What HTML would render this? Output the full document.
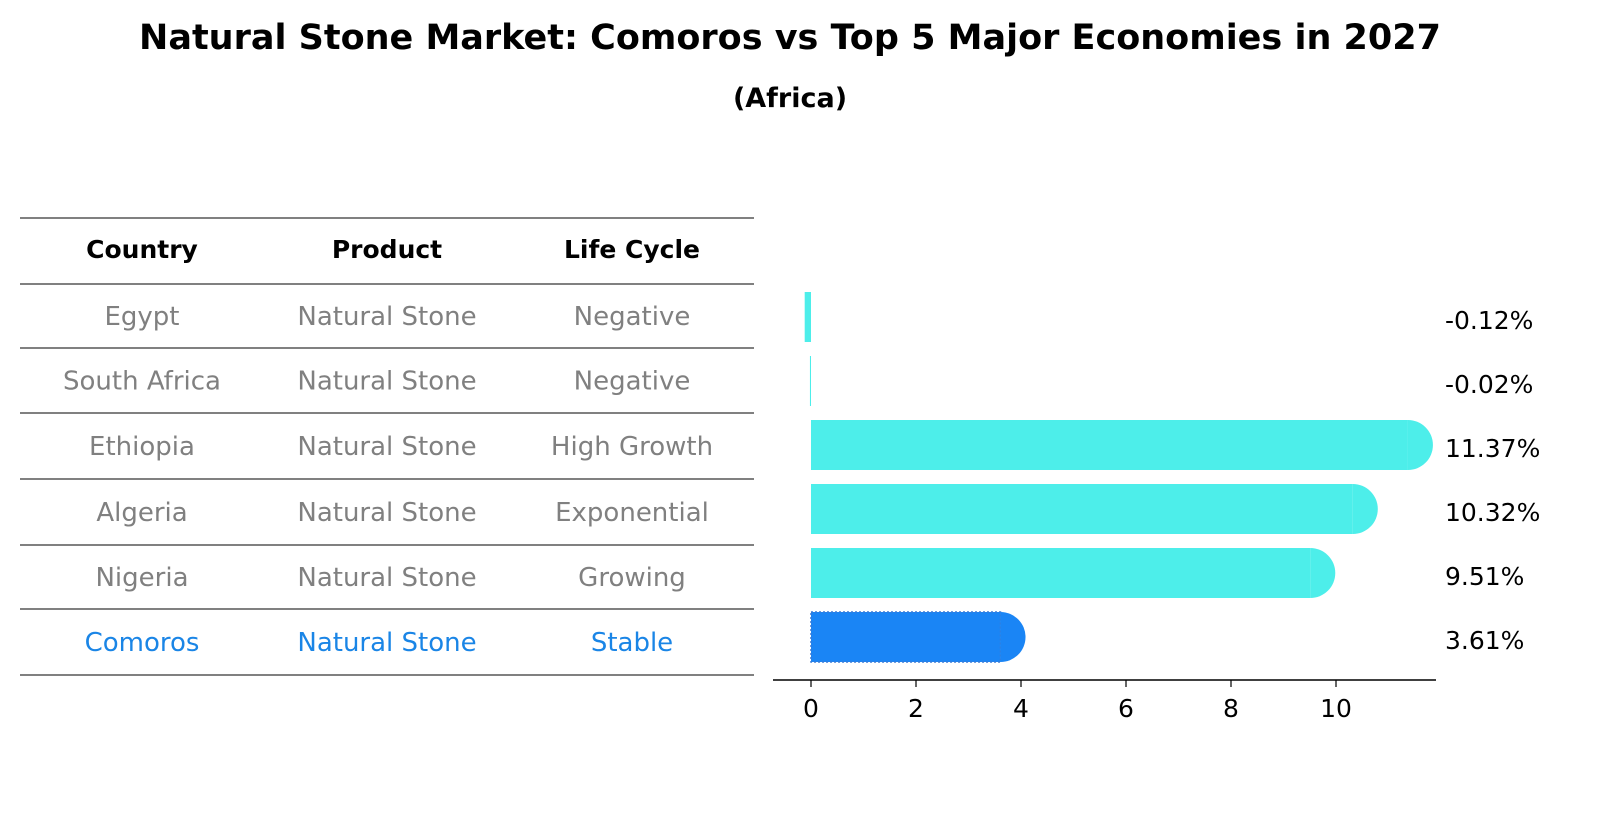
<!DOCTYPE html>
<html><head><meta charset="utf-8"><style>
body{margin:0;background:#fff;font-family:"Liberation Sans","DejaVu Sans",sans-serif;}
</style></head><body>
<svg width="1604" height="823" xmlns="http://www.w3.org/2000/svg" font-family="DejaVu Sans, Liberation Sans, sans-serif">
<text x="790" y="49" text-anchor="middle" font-size="35" font-weight="bold">Natural Stone Market: Comoros vs Top 5 Major Economies in 2027</text>
<text x="790" y="107" text-anchor="middle" font-size="27" font-weight="bold">(Africa)</text>
<g id="table"></g>
<g id="bars"></g>
</svg>
<script>
const countries=["Egypt","South Africa","Ethiopia","Algeria","Nigeria","Comoros"];
const products=["Natural Stone","Natural Stone","Natural Stone","Natural Stone","Natural Stone","Natural Stone"];
const lifeCycles=["Negative","Negative","High Growth","Exponential","Growing","Stable"];
const values=[-0.12,-0.02,11.37,10.32,9.51,3.61];
const valueLabels=["-0.12%","-0.02%","11.37%","10.32%","9.51%","3.61%"];
const xTicks=[0,2,4,6,8,10];
const NS="http://www.w3.org/2000/svg";
function mk(tag,attrs,parent){const e=document.createElementNS(NS,tag);for(const k in attrs)e.setAttribute(k,attrs[k]);parent.appendChild(e);return e;}
const tbl=document.getElementById('table');
const lineY=[218,284,348,413,479,545,609,675];
lineY.forEach((y,i)=>{const l=mk('line',{x1:20,x2:754,y1:y,y2:y,stroke:'#000','stroke-width':1},tbl);

});
const colX=[142,387,632];
["Country","Product","Life Cycle"].forEach((h,i)=>{const t=mk('text',{x:colX[i],y:258,'text-anchor':'middle','font-size':25,'font-weight':'bold'},tbl);t.textContent=h;

});
countries.forEach((c,r)=>{const y=(lineY[r+1]+lineY[r+2])/2+9;const last=r===countries.length-1;const col=last?'#1a85e6':'#808080';
[c,products[r],lifeCycles[r]].forEach((v,i)=>{const t=mk('text',{x:colX[i],y:y,'text-anchor':'middle','font-size':26,fill:col},tbl);t.textContent=v;

});});
const g=document.getElementById('bars');
const x0=811,ppu=52.5;const xs=v=>x0+v*ppu;
const rowY=r=>317+r*64;const bh=50;
values.forEach((v,r)=>{const last=r===values.length-1;const col=last?'#1a85f5':'#4deeea';const cy=rowY(r);
const a=Math.min(xs(0),xs(v)),b=Math.max(xs(0),xs(v));
const rect=mk('rect',{x:a,y:cy-bh/2,width:Math.max(b-a,1),height:bh,fill:col},g);


if(last){rect.setAttribute('stroke','#3a7bd5');rect.setAttribute('stroke-dasharray','2,2');rect.setAttribute('stroke-width','1.5');}
if(v>1){const cap=mk('path',{d:`M${b} ${cy-bh/2} A${bh/2} ${bh/2} 0 0 1 ${b} ${cy+bh/2} Z`,fill:col},g);

}
const t=mk('text',{x:1445,y:cy+12,'font-size':25},g);t.textContent=valueLabels[r];

});
const ax=mk('line',{x1:773,x2:1436,y1:680,y2:680,stroke:'#000','stroke-width':1.5},g);


xTicks.forEach(v=>{const tk=mk('line',{x1:xs(v),x2:xs(v),y1:680,y2:687,stroke:'#000','stroke-width':1.2},g);


const t=mk('text',{x:xs(v),y:717,'text-anchor':'middle','font-size':25},g);t.textContent=v;

});
</script>
</body></html>
